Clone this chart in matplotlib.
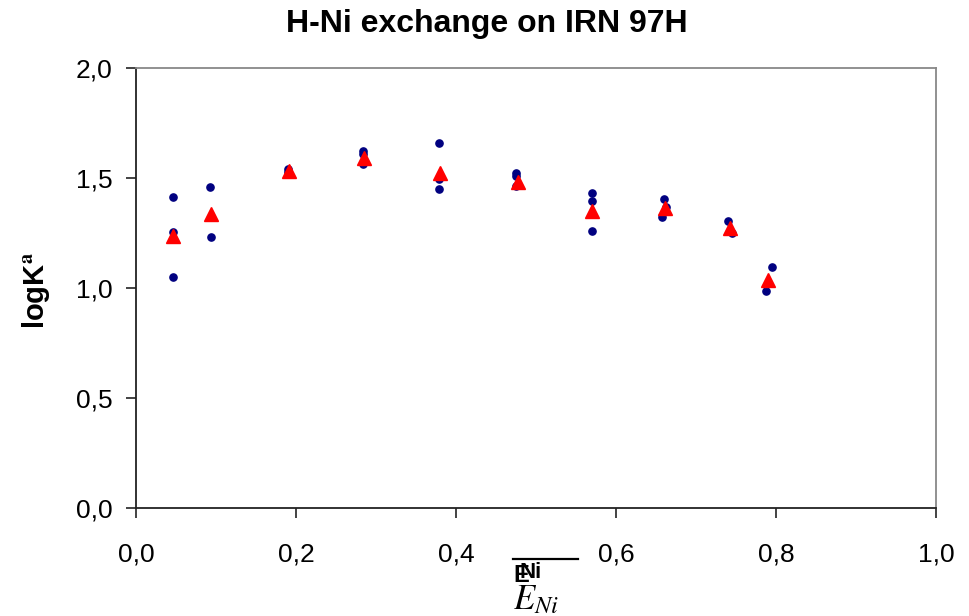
import matplotlib
matplotlib.use("Agg")
import matplotlib.pyplot as plt
from matplotlib.lines import Line2D
from matplotlib.ticker import FuncFormatter

plt.rcParams['font.family'] = ['Liberation Sans', 'DejaVu Sans']
plt.rcParams['mathtext.fontset'] = 'stix'

# individual measurements (blue circles)
x_meas = [0.046, 0.046, 0.046,
          0.093, 0.094,
          0.190, 0.190,
          0.284, 0.284, 0.284,
          0.379, 0.379, 0.379,
          0.475, 0.475, 0.475,
          0.570, 0.570, 0.570,
          0.660, 0.662, 0.658,
          0.740, 0.745,
          0.795, 0.787]
y_meas = [1.414, 1.254, 1.050,
          1.459, 1.232,
          1.540, 1.527,
          1.625, 1.608, 1.562,
          1.659, 1.495, 1.450,
          1.523, 1.509, 1.462,
          1.432, 1.395, 1.259,
          1.405, 1.368, 1.323,
          1.305, 1.252,
          1.095, 0.986]

# averages (red triangles)
x_avg = [0.046, 0.094, 0.191, 0.285, 0.380, 0.477, 0.570, 0.661, 0.742, 0.790]
y_avg = [1.236, 1.336, 1.530, 1.590, 1.523, 1.484, 1.350, 1.364, 1.273, 1.036]

title = "H-Ni exchange on IRN 97H"
xticks = [0.0, 0.2, 0.4, 0.6, 0.8, 1.0]
yticks = [0.0, 0.5, 1.0, 1.5, 2.0]

fig = plt.figure(figsize=(9.7, 6.16), dpi=100)
ax = fig.add_axes([136/970, 1-508/616, 800/970, 440/616])

ax.plot(x_meas, y_meas, linestyle='none', marker='o', markersize=5.2,
        color='#000080', markeredgecolor='#000080', zorder=3)
ax.plot(x_avg, y_avg, linestyle='none', marker='^', markersize=10.5,
        color='#FF0000', markeredgecolor='#FF0000', zorder=4)

ax.set_xlim(0, 1.0)
ax.set_ylim(0, 2.0)
ax.set_xticks(xticks)
ax.set_yticks(yticks)
fmt = FuncFormatter(lambda v, p: f"{v:.1f}".replace('.', ','))
ax.xaxis.set_major_formatter(fmt)
ax.yaxis.set_major_formatter(fmt)
ax.tick_params(axis='both', direction='out', length=7, width=1.2, labelsize=19,
               color='#222222')
ax.tick_params(axis='x', pad=18)
ax.tick_params(axis='y', pad=10)

for s in ['left', 'bottom']:
    ax.spines[s].set_color('#222222')
    ax.spines[s].set_linewidth(1.3)
for s in ['top', 'right']:
    ax.spines[s].set_color('#888888')
    ax.spines[s].set_linewidth(1.3)

fig.text(487/970, 1-24/616, title, ha='center', va='center',
         fontsize=23, fontweight='bold')

fig.text(36/970, 1-290/616, r"logK$^{\mathbf{a}}$", rotation=90, ha='center',
         va='center', fontsize=21, fontweight='bold')

# x-axis label: overlined E_Ni with overlapping bold text
fig.add_artist(Line2D([513/970, 578/970], [1-559/616, 1-559/616],
                      color='black', linewidth=1.6))
fig.text(513/970, 1-576/616, "E", ha='left', va='center',
         fontsize=17, fontweight='bold')
fig.text(520/970, 1-573/616, "Ni", ha='left', va='center',
         fontsize=16, fontweight='bold')
fig.text(513/970, 1-600/616, r"$E_{Ni}$", ha='left', va='center', fontsize=25)

fig.savefig("out.png", dpi=100)
